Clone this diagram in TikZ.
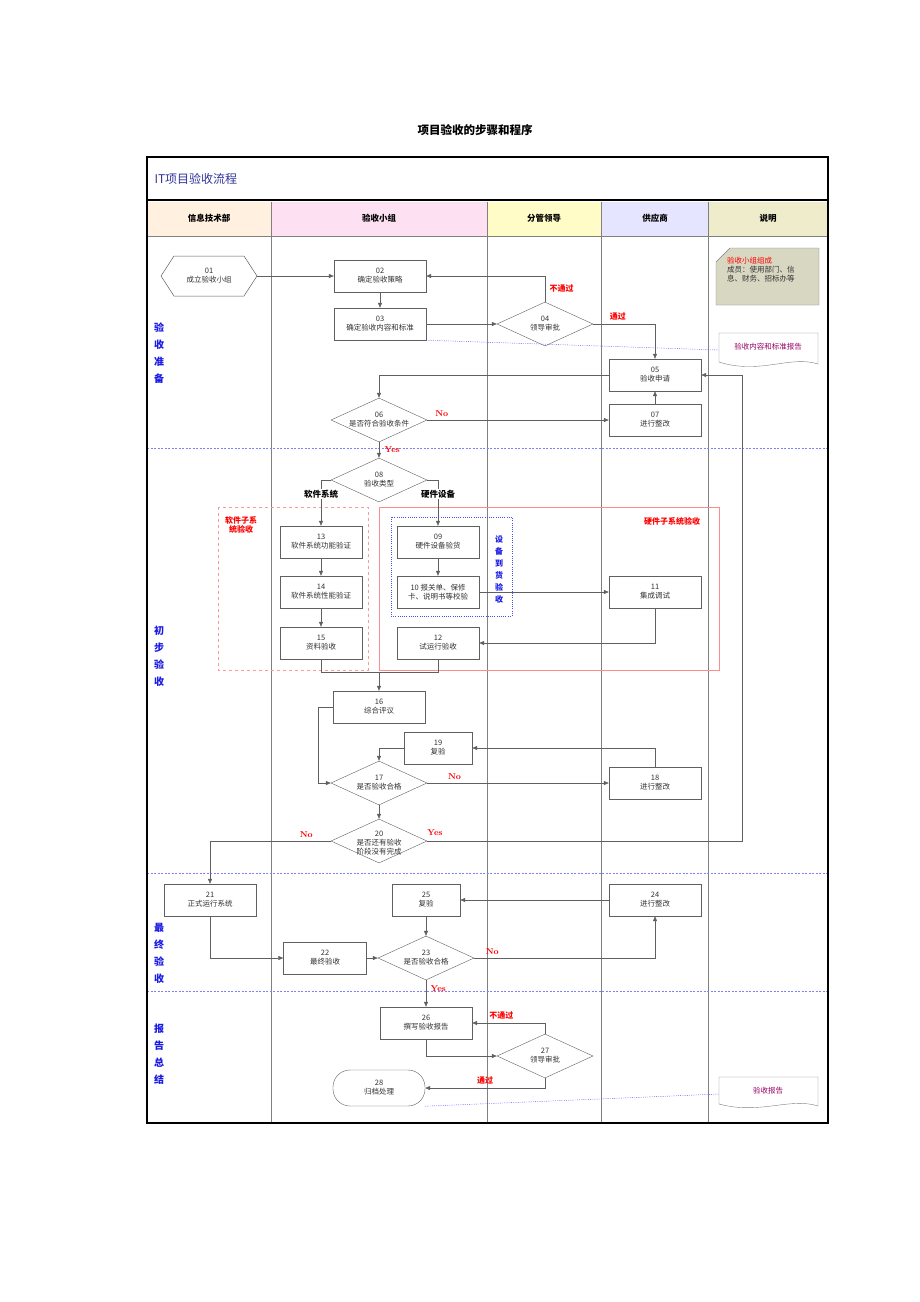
\documentclass[tikz,border=0pt]{standalone}
\usepackage{fontspec}
\newfontfamily\cjk{Noto Sans CJK SC}
\usetikzlibrary{arrows.meta,shapes.geometric,shapes.misc,calc}
\definecolor{ln}{HTML}{606060}
\definecolor{titleblue}{HTML}{333399}
\definecolor{phase}{HTML}{1A1AE6}
\begin{document}
\begin{tikzpicture}[x=1pt,y=-1pt,
  every node/.style={font=\cjk\fontsize{7.5}{9}\selectfont,text=black!80},
  box/.style={draw=ln,fill=white,minimum width=#1,minimum height=32pt,inner sep=0,align=center},
  box/.default=92pt,
  dia/.style={draw=ln,fill=white,shape=diamond,minimum width=96pt,minimum height=44pt,inner sep=0},
  con/.style={draw=ln,line width=0.5pt,-{Triangle[length=5pt,width=4pt]}},
  lab/.style={font=\bfseries\fontsize{8.5}{9}\selectfont,text=red},
  clab/.style={font=\cjk\bfseries\fontsize{8}{9}\selectfont,text=red},
  phase/.style={font=\cjk\bfseries\fontsize{10}{17}\selectfont,text=phase,align=center},
  hdr/.style={font=\cjk\bfseries\fontsize{8.5}{9}\selectfont,text=black},
  dotb/.style={draw=blue!70,dash pattern=on 1pt off 1.2pt,line width=0.4pt}]
\useasboundingbox (0,0) rectangle (920,1302);
\fill[white] (0,0) rectangle (920,1302);
\node[font=\cjk\bfseries\fontsize{11.5}{13}\selectfont,text=black] (title) at (475,130) {项目验收的步骤和程序};
% headers
\fill[orange!12] (147,202) rectangle (271,236);
\fill[magenta!12] (271,202) rectangle (487,236);
\fill[yellow!22] (487,202) rectangle (601,236);
\fill[blue!10] (601,202) rectangle (708,236);
\fill[olive!15] (708,202) rectangle (828,236);
\node[hdr] (h1) at (209,218) {信息技术部};
\node[hdr] (h2) at (379,218) {验收小组};
\node[hdr] (h3) at (544,218) {分管领导};
\node[hdr] (h4) at (655,218) {供应商};
\node[hdr] (h5) at (768,218) {说明};
\draw[gray,line width=0.4pt] (147,236) -- (828,236);
\foreach \x in {271,487,601,708} \draw[gray,line width=0.5pt] (\x,202) -- (\x,1123);
\foreach \y in {448,873,991} \draw[dotb,draw=blue!50,dash pattern=on 2pt off 1.5pt] (147,\y) -- (828,\y);
\draw[line width=1.3pt] (147,157) rectangle (828,1123);
\draw[line width=1.3pt] (147,200) -- (828,200);
\node[font=\fontsize{12}{14}\selectfont\cjk,text=titleblue,anchor=west] (it) at (151,179) {IT项目验收流程};
\node[phase] (p1) at (159,353) {验\\收\\准\\备};
\node[phase] (p2) at (159,656) {初\\步\\验\\收};
\node[phase] (p3) at (159,953) {最\\终\\验\\收};
\node[phase] (p4) at (159,1054) {报\\告\\总\\结};
% group boxes
\draw[red!40,dashed,line width=0.5pt] (218,507) rectangle (368,670);
\node[clab,align=center] (gsw) at (241,525) {软件子系\\统验收};
\draw[red!45,line width=0.6pt] (379,507) rectangle (719,670);
\node[clab] (ghw) at (672,521) {硬件子系统验收};
\draw[dotb] (391,517) rectangle (512,616);
\node[phase,font=\cjk\bfseries\fontsize{8}{12}\selectfont] (gdev) at (499,570) {设\\备\\到\\货\\验\\收};
% nodes
\node[minimum width=96pt,minimum height=40pt,inner sep=0,align=center] (n01) at (209,276) {01\\成立验收小组};
\draw[ln,line width=0.5pt] (161,276) -- (174,256) -- (244,256) -- (257,276) -- (244,296) -- (174,296) -- cycle;
\node[box] (n02) at (380,276) {02\\确定验收策略};
\node[box] (n03) at (380,324) {03\\确定验收内容和标准};
\node[dia,label={[align=center]center:04\\领导审批}] (n04) at (545,324) {};
\node[box] (n05) at (655,375) {05\\验收申请};
\node[box] (n07) at (655,420) {07\\进行整改};
\node[dia,label={[align=center]center:06\\是否符合验收条件}] (n06) at (379,420) {};
\node[dia,label={[align=center]center:08\\验收类型}] (n08) at (379,480) {};
\node[box=82pt] (n13) at (321,542) {13\\软件系统功能验证};
\node[box=82pt] (n14) at (321,592) {14\\软件系统性能验证};
\node[box=82pt] (n15) at (321,643) {15\\资料验收};
\node[box=82pt] (n09) at (438,542) {09\\硬件设备验货};
\node[box=82pt] (n10) at (438,592) {10\ 报关单、保修\\卡、说明书等校验};
\node[box] (n11) at (655,592) {11\\集成调试};
\node[box=82pt] (n12) at (438,643) {12\\试运行验收};
\node[box] (n16) at (379,707) {16\\综合评议};
\node[box=68pt] (n19) at (438,748) {19\\复验};
\node[dia,label={[align=center]center:17\\是否验收合格}] (n17) at (379,783) {};
\node[box] (n18) at (655,783) {18\\进行整改};
\node[dia,label={[align=center,yshift=-2pt]center:20\\是否还有验收\\阶段没有完成}] (n20) at (379,841) {};
\node[box] (n21) at (210,900) {21\\正式运行系统};
\node[box=68pt] (n25) at (426,900) {25\\复验};
\node[box] (n24) at (655,900) {24\\进行整改};
\node[box=83pt] (n22) at (325,958) {22\\最终验收};
\node[dia,label={[align=center]center:23\\是否验收合格}] (n23) at (426,958) {};
\node[box] (n26) at (426,1023) {26\\撰写验收报告};
\node[dia,label={[align=center]center:27\\领导审批}] (n27) at (545,1056) {};
\node[draw=ln,fill=white,rounded corners=17pt,minimum width=92pt,minimum height=36pt,inner sep=0,align=center] (n28) at (379,1088) {28\\归档处理};
% notes
\draw[gray,fill=olive!30!gray!35] (716,262) -- (730,248) -- (819,248) -- (819,305) -- (716,305) -- cycle;
\node[anchor=north west,align=left,inner sep=0] (note1) at (727,257) {\textcolor{red}{验收小组组成}\\成员：使用部门、信\\息、财务、招标办等};
\draw[gray,fill=white] (719,333) -- (818,333) -- (818,364) .. controls (790,355) and (760,375) .. (719,362) -- cycle;
\node[text=violet!80!red] (doc1) at (768,347) {验收内容和标准报告};
\draw[gray,fill=white] (719,1077) -- (818,1077) -- (818,1106) .. controls (790,1097) and (760,1115) .. (719,1104) -- cycle;
\node[text=violet!80!red] (doc2) at (768,1091) {验收报告};
\coordinate (d1) at (719,350);
\coordinate (d2) at (719,1094);
\draw[dotb] (n03.south east) -- (d1);
\draw[dotb] (n28.south east) -- (d2);
% connectors
\draw[con] (n01.east) -- (n02.west);
\draw[con] (n02) -- (n03);
\draw[con] (n03) -- (n04.west);
\draw[con] (n04.north) |- (n02.east) node[pos=0.25,clab,right=1pt] {不通过};
\draw[con] (n04.east) -| (n05.north) node[pos=0.2,clab,above] {通过};
\draw[con] (n07) -- (n05);
\draw[con] (n05.west) -| (n06.north);
\draw[con] (n06.east) -- (n07.west) node[pos=0.08,lab,above] {No};
\draw[con] (n06.south) -- (n08.north) node[pos=0.5,lab,right=2pt] {Yes};
\draw[con] (n08.west) -| (n13.north);
\draw[con] (n08.east) -| (n09.north);
\node[hdr,fill=white,inner sep=1pt] (lsw) at (321,494) {软件系统};
\node[hdr,fill=white,inner sep=1pt] (lhw) at (438,494) {硬件设备};
\draw[con] (n13) -- (n14);
\draw[con] (n14) -- (n15);
\draw[con] (n09) -- (n10);
\draw[con] (n10) -- (n11);
\draw[con] (n11.south) |- (n12.east);
\coordinate (j1) at (379,672);
\draw[ln,line width=0.5pt] (n15.south) |- (j1);
\draw[ln,line width=0.5pt] (n12.south) |- (j1);
\draw[con] (j1) -- (n16.north);
\draw[con] (n16.west) -- ++(-15,0) |- (n17.west);
\draw[con] (n17.east) -- (n18.west) node[pos=0.15,lab,above] {No};
\draw[con] (n18.north) |- (n19.east);
\draw[con] (n19.west) -| (n17.north);
\draw[con] (n17) -- (n20);
\draw[con] (n20.west) -| (n21.north) node[pos=0.06,lab,above left] {No};
\draw[con] (n20.east) -- (742,841) |- (n05.east);
\node[lab] (yes20) at (435,833) {Yes};
\draw[con] (n21.south) |- (n22.west);
\draw[con] (n22) -- (n23.west);
\draw[con] (n23.east) -| (n24.south) node[pos=0.05,lab,above] {No};
\draw[con] (n24) -- (n25);
\draw[con] (n25) -- (n23.north);
\draw[con] (n23.south) -- (n26.north) node[pos=0.3,lab,right=1pt] {Yes};
\draw[con] (n26.south) |- (n27.west);
\draw[con] (n27.north) |- (n26.east) node[pos=0.8,clab,above] {不通过};
\draw[con] (n27.south) |- (n28.east) node[pos=0.75,clab,above] {通过};
\end{tikzpicture}
\end{document}
